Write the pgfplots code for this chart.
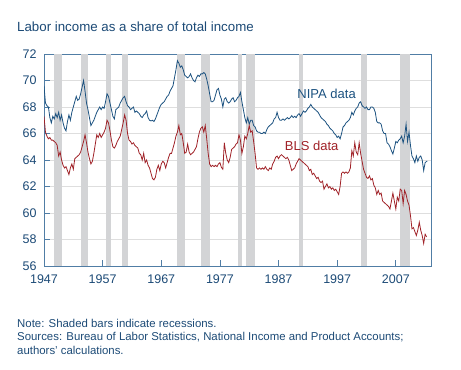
\documentclass[border=0pt]{standalone}
\usepackage{fontspec}
\setmainfont{Liberation Sans}
\usepackage{pgfplots}
\pgfplotsset{compat=1.18}
\definecolor{txtblue}{RGB}{28,74,118}
\definecolor{axblue}{RGB}{80,125,165}
\definecolor{nipa}{RGB}{28,82,128}
\definecolor{bls}{RGB}{160,34,40}
\definecolor{recess}{RGB}{211,212,214}
\definecolor{gridc}{RGB}{222,222,222}
\begin{document}
\begin{tikzpicture}
\path[use as bounding box] (0,0) rectangle (461bp,370bp);
\begin{axis}[
  at={(44bp,104bp)}, anchor=south west,
  scale only axis, width=387bp, height=212bp,
  xmin=1947, xmax=2013, ymin=56, ymax=72,
  xtick={1947,1957,1967,1977,1987,1997,2007},
  ytick={56,58,...,72},
  xtick pos=bottom, ytick pos=left,
  tick align=inside, major tick length=6bp,
  tick style={color=axblue, line width=0.8bp},
  axis line style={color=axblue, line width=0.9bp},
  ymajorgrids, grid style={color=gridc, line width=0.8bp},
  /pgf/number format/assume math mode=true,
  /pgf/number format/1000 sep={},
  ticklabel style={font=\fontsize{12.5bp}{15bp}\selectfont, text=txtblue},
  xticklabel style={yshift=-5bp},
  yticklabel style={xshift=-4bp},
  clip=true,
]
% recession bars
\addplot[fill=recess, draw=none, forget plot] coordinates {(1948.75,56) (1948.75,72) (1950.0,72) (1950.0,56)};
\addplot[fill=recess, draw=none, forget plot] coordinates {(1953.25,56) (1953.25,72) (1954.5,72) (1954.5,56)};
\addplot[fill=recess, draw=none, forget plot] coordinates {(1957.5,56) (1957.5,72) (1958.5,72) (1958.5,56)};
\addplot[fill=recess, draw=none, forget plot] coordinates {(1960.25,56) (1960.25,72) (1961.25,72) (1961.25,56)};
\addplot[fill=recess, draw=none, forget plot] coordinates {(1969.75,56) (1969.75,72) (1971.0,72) (1971.0,56)};
\addplot[fill=recess, draw=none, forget plot] coordinates {(1973.75,56) (1973.75,72) (1975.25,72) (1975.25,56)};
\addplot[fill=recess, draw=none, forget plot] coordinates {(1980.0,56) (1980.0,72) (1980.75,72) (1980.75,56)};
\addplot[fill=recess, draw=none, forget plot] coordinates {(1981.5,56) (1981.5,72) (1983.0,72) (1983.0,56)};
\addplot[fill=recess, draw=none, forget plot] coordinates {(1990.5,56) (1990.5,72) (1991.25,72) (1991.25,56)};
\addplot[fill=recess, draw=none, forget plot] coordinates {(2001.0,56) (2001.0,72) (2002.0,72) (2002.0,56)};
\addplot[fill=recess, draw=none, forget plot] coordinates {(2007.75,56) (2007.75,72) (2009.5,72) (2009.5,56)};
% NIPA
\addplot[color=nipa, line width=0.8bp, mark=none] coordinates {
(1947.0,69.6)(1947.25,68.3)(1947.5,68.1)(1947.75,68.0)(1948.0,67.2)(1948.25,66.8)(1948.5,67.3)(1948.75,67.1)
(1949.0,67.5)(1949.25,67.2)(1949.5,67.6)(1949.75,67.0)(1950.0,67.4)(1950.25,66.8)(1950.5,66.4)(1950.75,66.2)
(1951.0,66.9)(1951.25,67.4)(1951.5,67.0)(1951.75,67.6)(1952.0,68.0)(1952.25,68.4)(1952.5,68.8)(1952.75,68.5)
(1953.0,68.6)(1953.25,69.0)(1953.5,69.5)(1953.75,70.0)(1954.0,69.2)(1954.25,68.3)(1954.5,67.8)(1954.75,67.2)
(1955.0,66.6)(1955.25,66.8)(1955.5,67.0)(1955.75,67.3)(1956.0,67.6)(1956.25,67.8)(1956.5,68.0)(1956.75,67.8)
(1957.0,68.0)(1957.25,67.9)(1957.5,68.4)(1957.75,69.0)(1958.0,68.8)(1958.25,68.3)(1958.5,67.8)(1958.75,67.3)
(1959.0,67.1)(1959.25,67.8)(1959.5,67.9)(1959.75,68.0)(1960.0,68.3)(1960.25,68.5)(1960.5,68.7)(1960.75,68.8)
(1961.0,68.4)(1961.25,68.1)(1961.5,68.0)(1961.75,67.8)(1962.0,67.9)(1962.25,68.0)(1962.5,67.6)(1962.75,67.7)
(1963.0,67.6)(1963.25,67.5)(1963.5,67.3)(1963.75,67.2)(1964.0,67.4)(1964.25,67.5)(1964.5,67.7)(1964.75,67.2)
(1965.0,67.0)(1965.25,66.95)(1965.5,67.0)(1965.75,66.9)(1966.0,67.1)(1966.25,67.4)(1966.5,67.7)(1966.75,68.0)
(1967.0,68.2)(1967.25,68.3)(1967.5,68.4)(1967.75,68.6)(1968.0,68.8)(1968.25,68.9)(1968.5,69.2)(1968.75,69.4)
(1969.0,69.6)(1969.25,70.2)(1969.5,70.8)(1969.75,71.5)(1970.0,71.3)(1970.25,71.0)(1970.5,71.1)(1970.75,70.8)
(1971.0,70.4)(1971.25,70.3)(1971.5,70.2)(1971.75,70.3)(1972.0,70.5)(1972.25,70.2)(1972.5,70.0)(1972.75,69.9)
(1973.0,70.2)(1973.25,70.4)(1973.5,70.3)(1973.75,70.5)(1974.0,70.5)(1974.25,70.6)(1974.5,70.5)(1974.75,70.1)
(1975.0,69.6)(1975.25,69.0)(1975.5,68.4)(1975.75,68.4)(1976.0,68.5)(1976.25,68.9)(1976.5,69.3)(1976.75,69.4)
(1977.0,68.9)(1977.25,68.6)(1977.5,68.0)(1977.75,68.6)(1978.0,68.7)(1978.25,68.4)(1978.5,68.3)(1978.75,68.4)
(1979.0,68.6)(1979.25,68.7)(1979.5,68.4)(1979.75,68.5)(1980.0,68.7)(1980.25,68.8)(1980.5,69.1)(1980.75,68.4)
(1981.0,67.8)(1981.25,67.2)(1981.5,66.8)(1981.75,67.2)(1982.0,66.7)(1982.25,67.0)(1982.5,67.0)(1982.75,66.6)
(1983.0,66.5)(1983.25,66.2)(1983.5,66.1)(1983.75,66.1)(1984.0,66.0)(1984.25,66.0)(1984.5,66.1)(1984.75,66.0)
(1985.0,66.3)(1985.25,66.5)(1985.5,66.6)(1985.75,66.7)(1986.0,66.8)(1986.25,67.1)(1986.5,67.2)(1986.75,67.6)
(1987.0,67.2)(1987.25,67.0)(1987.5,67.0)(1987.75,67.1)(1988.0,67.0)(1988.25,67.1)(1988.5,67.2)(1988.75,67.1)
(1989.0,67.2)(1989.25,67.35)(1989.5,67.2)(1989.75,67.3)(1990.0,67.2)(1990.25,67.4)(1990.5,67.5)(1990.75,67.3)
(1991.0,67.5)(1991.25,67.7)(1991.5,67.6)(1991.75,67.7)(1992.0,67.9)(1992.25,68.0)(1992.5,68.2)(1992.75,68.0)
(1993.0,67.9)(1993.25,67.8)(1993.5,67.7)(1993.75,67.6)(1994.0,67.4)(1994.25,67.2)(1994.5,67.1)(1994.75,67.0)
(1995.0,66.9)(1995.25,66.7)(1995.5,66.6)(1995.75,66.4)(1996.0,66.3)(1996.25,66.2)(1996.5,66.0)(1996.75,65.9)
(1997.0,65.7)(1997.25,65.8)(1997.5,65.6)(1997.75,66.0)(1998.0,66.5)(1998.25,66.6)(1998.5,66.8)(1998.75,66.9)
(1999.0,67.0)(1999.25,67.2)(1999.5,67.6)(1999.75,67.4)(2000.0,67.7)(2000.25,67.9)(2000.5,68.0)(2000.75,68.3)
(2001.0,68.4)(2001.25,68.1)(2001.5,68.0)(2001.75,67.9)(2002.0,68.0)(2002.25,67.8)(2002.5,67.8)(2002.75,68.0)
(2003.0,68.0)(2003.25,67.9)(2003.5,67.6)(2003.75,66.9)(2004.0,66.8)(2004.25,66.8)(2004.5,66.7)(2004.75,66.2)
(2005.0,66.0)(2005.25,66.0)(2005.5,65.3)(2005.75,65.2)(2006.0,65.0)(2006.25,64.7)(2006.5,64.45)(2006.75,64.9)
(2007.0,65.4)(2007.25,65.3)(2007.5,65.5)(2007.75,65.6)(2008.0,65.8)(2008.25,65.3)(2008.5,65.8)(2008.75,66.7)
(2009.0,65.4)(2009.25,66.1)(2009.5,65.1)(2009.75,64.3)(2010.0,64.1)(2010.25,63.8)(2010.5,64.3)(2010.75,63.9)
(2011.0,64.2)(2011.25,64.3)(2011.5,64.0)(2011.75,63.2)(2012.0,63.8)(2012.25,63.9)(2012.4,63.9)
};
% BLS
\addplot[color=bls, line width=0.8bp, mark=none] coordinates {
(1947.0,67.3)(1947.25,66.1)(1947.5,65.8)(1947.75,65.6)(1948.0,65.7)(1948.25,65.5)(1948.5,65.5)(1948.75,65.4)
(1949.0,65.3)(1949.25,65.1)(1949.5,64.3)(1949.75,64.6)(1950.0,64.0)(1950.25,63.6)(1950.5,63.4)(1950.75,63.5)
(1951.0,63.2)(1951.25,62.9)(1951.5,63.4)(1951.75,63.7)(1952.0,63.3)(1952.25,64.1)(1952.5,64.2)(1952.75,64.3)
(1953.0,64.4)(1953.25,64.6)(1953.5,65.0)(1953.75,65.4)(1954.0,65.9)(1954.25,65.3)(1954.5,64.6)(1954.75,64.1)
(1955.0,63.7)(1955.25,63.9)(1955.5,64.5)(1955.75,65.2)(1956.0,65.9)(1956.25,65.7)(1956.5,66.0)(1956.75,65.7)
(1957.0,65.9)(1957.25,66.1)(1957.5,66.4)(1957.75,67.0)(1958.0,66.8)(1958.25,66.2)(1958.5,65.5)(1958.75,65.0)
(1959.0,64.9)(1959.25,65.1)(1959.5,65.4)(1959.75,65.6)(1960.0,65.8)(1960.25,66.3)(1960.5,66.8)(1960.75,67.4)
(1961.0,67.0)(1961.25,66.0)(1961.5,65.5)(1961.75,65.4)(1962.0,65.2)(1962.25,65.3)(1962.5,65.1)(1962.75,65.0)
(1963.0,64.9)(1963.25,64.5)(1963.5,64.4)(1963.75,64.0)(1964.0,64.5)(1964.25,63.8)(1964.5,64.0)(1964.75,63.6)
(1965.0,63.4)(1965.25,63.0)(1965.5,62.6)(1965.75,62.5)(1966.0,62.7)(1966.25,63.3)(1966.5,63.6)(1966.75,63.2)
(1967.0,63.7)(1967.25,63.9)(1967.5,63.8)(1967.75,63.4)(1968.0,63.8)(1968.25,64.2)(1968.5,64.5)(1968.75,64.5)
(1969.0,64.9)(1969.25,65.3)(1969.5,65.8)(1969.75,66.1)(1970.0,66.6)(1970.25,65.9)(1970.5,66.0)(1970.75,65.3)
(1971.0,64.5)(1971.25,64.6)(1971.5,65.2)(1971.75,64.6)(1972.0,64.4)(1972.25,64.5)(1972.5,64.6)(1972.75,64.8)
(1973.0,65.0)(1973.25,65.6)(1973.5,66.1)(1973.75,66.4)(1974.0,66.5)(1974.25,66.1)(1974.5,66.6)(1974.75,65.6)
(1975.0,64.5)(1975.25,63.7)(1975.5,63.5)(1975.75,63.6)(1976.0,63.5)(1976.25,63.6)(1976.5,63.5)(1976.75,63.7)
(1977.0,63.8)(1977.25,63.45)(1977.5,63.3)(1977.75,65.3)(1978.0,64.5)(1978.25,64.0)(1978.5,63.8)(1978.75,64.2)
(1979.0,64.8)(1979.25,64.9)(1979.5,65.0)(1979.75,65.2)(1980.0,65.3)(1980.25,65.9)(1980.5,65.5)(1980.75,64.5)
(1981.0,65.0)(1981.25,65.8)(1981.5,65.6)(1981.75,66.0)(1982.0,66.6)(1982.25,66.1)(1982.5,66.2)(1982.75,65.4)
(1983.0,64.5)(1983.25,63.4)(1983.5,63.3)(1983.75,63.4)(1984.0,63.3)(1984.25,63.4)(1984.5,63.3)(1984.75,63.5)
(1985.0,63.3)(1985.25,63.2)(1985.5,63.4)(1985.75,63.3)(1986.0,63.7)(1986.25,63.9)(1986.5,64.2)(1986.75,64.3)
(1987.0,64.1)(1987.25,64.3)(1987.5,64.4)(1987.75,64.3)(1988.0,64.2)(1988.25,64.1)(1988.5,64.2)(1988.75,64.0)
(1989.0,63.6)(1989.25,63.2)(1989.5,63.3)(1989.75,63.4)(1990.0,63.7)(1990.25,63.9)(1990.5,64.1)(1990.75,64.0)
(1991.0,63.9)(1991.25,63.8)(1991.5,63.7)(1991.75,63.6)(1992.0,63.5)(1992.25,63.2)(1992.5,63.3)(1992.75,62.9)
(1993.0,63.0)(1993.25,62.8)(1993.5,62.6)(1993.75,62.7)(1994.0,62.4)(1994.25,62.3)(1994.5,62.4)(1994.75,61.8)
(1995.0,62.0)(1995.25,62.2)(1995.5,61.9)(1995.75,62.0)(1996.0,61.8)(1996.25,61.9)(1996.5,61.7)(1996.75,61.8)
(1997.0,61.6)(1997.25,61.4)(1997.5,62.0)(1997.75,63.0)(1998.0,63.1)(1998.25,63.0)(1998.5,63.1)(1998.75,63.0)
(1999.0,63.1)(1999.25,63.4)(1999.5,64.7)(1999.75,64.3)(2000.0,65.3)(2000.25,64.6)(2000.5,64.4)(2000.75,65.3)
(2001.0,64.5)(2001.25,63.9)(2001.5,63.3)(2001.75,63.0)(2002.0,62.7)(2002.25,62.6)(2002.5,62.8)(2002.75,62.5)
(2003.0,62.6)(2003.25,62.1)(2003.5,61.9)(2003.75,61.4)(2004.0,61.7)(2004.25,61.4)(2004.5,61.5)(2004.75,60.9)
(2005.0,60.8)(2005.25,60.7)(2005.5,60.6)(2005.75,60.5)(2006.0,60.3)(2006.25,60.9)(2006.5,61.5)(2006.75,60.9)
(2007.0,60.3)(2007.25,61.2)(2007.5,60.9)(2007.75,61.8)(2008.0,61.7)(2008.25,60.7)(2008.5,61.7)(2008.75,61.4)
(2009.0,60.9)(2009.25,60.6)(2009.5,59.8)(2009.75,58.8)(2010.0,58.9)(2010.25,58.6)(2010.5,58.3)(2010.75,58.7)
(2011.0,59.3)(2011.25,58.7)(2011.5,58.3)(2011.75,57.7)(2012.0,58.4)(2012.25,58.2)
};
\node[text=nipa, font=\fontsize{13bp}{15bp}\selectfont, anchor=center] at (axis cs:1995.2,69.0) {NIPA data};
\node[text=bls, font=\fontsize{13bp}{15bp}\selectfont, anchor=center] at (axis cs:1992.65,65.1) {BLS data};
\end{axis}
\node[anchor=base west, text=txtblue, font=\fontsize{13.3bp}{16bp}\selectfont, inner sep=0pt] at (17bp,338bp) {Labor income as a share of total income};
\node[anchor=base west, text=txtblue, font=\fontsize{11.4bp}{13bp}\selectfont, inner sep=0pt] at (17bp,42.7bp) {Note: Shaded bars indicate recessions.};
\node[anchor=base west, text=txtblue, font=\fontsize{11.4bp}{13bp}\selectfont, inner sep=0pt] at (17bp,29.3bp) {Sources: Bureau of Labor Statistics, National Income and Product Accounts;};
\node[anchor=base west, text=txtblue, font=\fontsize{11.4bp}{13bp}\selectfont, inner sep=0pt] at (17bp,16bp) {authors' calculations.};
\end{tikzpicture}
\end{document}
